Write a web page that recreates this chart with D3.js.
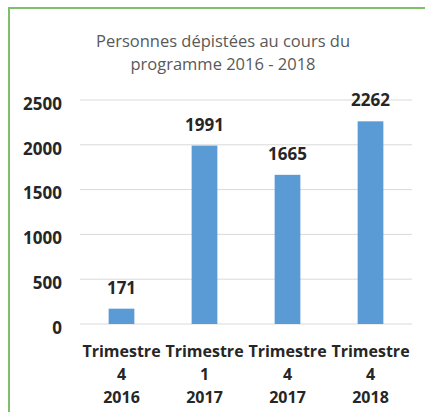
<!DOCTYPE html>
<html>
<head>
<meta charset="utf-8">
<script src="https://cdn.jsdelivr.net/npm/d3@7"></script>
<style>
  body { margin: 0; background: #fff; }
  text { font-family: 'Open Sans', sans-serif; }
</style>
</head>
<body>
<script>
var categories = ['Trimestre 4 2016', 'Trimestre 1 2017', 'Trimestre 4 2017', 'Trimestre 4 2018'];
var values     = [171, 1991, 1665, 2262];
var yTicks     = [0, 500, 1000, 1500, 2000, 2500];
var titleLines = ['Personnes dépistées au cours du', 'programme 2016 - 2018'];

var svg = d3.select('body').append('svg')
            .attr('width', 425)
            .attr('height', 412);

var x = d3.scaleBand()
          .domain(categories)
          .range([80, 412])
          .paddingInner(0.69)
          .paddingOuter(0.345);

var y = d3.scaleLinear()
          .domain([0, 2500])
          .range([324, 100]);

// green frame (top + left only)
svg.append('path')
   .attr('d', 'M 9 412 L 9 8 L 425 8')
   .attr('stroke', '#7dbf6b')
   .attr('stroke-width', 2)
   .attr('fill', 'none');

// title
svg.append('g').selectAll('text').data(titleLines)
   .enter().append('text')
   .attr('x', 223)
   .attr('y', function(d, i){ return 47 + i * 23; })
   .attr('text-anchor', 'middle')
   .attr('font-size', 16.5)
   .attr('fill', '#595959')
   .text(function(d){ return d; });

// gridlines
svg.append('g').selectAll('line').data(yTicks)
   .enter().append('line')
   .attr('x1', 80).attr('x2', 412)
   .attr('y1', function(d){ return y(d); })
   .attr('y2', function(d){ return y(d); })
   .attr('stroke', '#d9d9d9')
   .attr('stroke-width', 1);

// y axis labels
var yAxis = d3.axisLeft(y).tickValues(yTicks).tickFormat(d3.format('d')).tickSize(0).tickPadding(0);
var gy = svg.append('g').attr('transform', 'translate(62,0)').call(yAxis);
gy.select('.domain').remove();
gy.selectAll('text')
  .attr('font-family', "'Open Sans', sans-serif")
  .attr('font-size', 17)
  .attr('font-weight', 'bold')
  .attr('fill', '#262626')
  .attr('dy', '0.55em');

// bars
svg.append('g').selectAll('rect').data(values)
   .enter().append('rect')
   .attr('x', function(d, i){ return x(categories[i]); })
   .attr('y', function(d){ return y(d); })
   .attr('width', x.bandwidth())
   .attr('height', function(d){ return y(0) - y(d); })
   .attr('fill', '#5b9bd5');

// value labels
svg.append('g').selectAll('text').data(values)
   .enter().append('text')
   .attr('x', function(d, i){ return x(categories[i]) + x.bandwidth() / 2; })
   .attr('y', function(d){ return y(d) - 15; })
   .attr('text-anchor', 'middle')
   .attr('font-size', 17)
   .attr('font-weight', 'bold')
   .attr('fill', '#262626')
   .text(function(d){ return d; });

// category labels, one word per line
var cats = svg.append('g').selectAll('text').data(categories)
   .enter().append('text')
   .attr('text-anchor', 'middle')
   .attr('font-size', 16)
   .attr('font-weight', 'bold')
   .attr('fill', '#262626');

cats.selectAll('tspan')
    .data(function(d){ return d.split(' ').map(function(w){ return {w: w, c: d}; }); })
    .enter().append('tspan')
    .attr('x', function(d){ return x(d.c) + x.bandwidth() / 2; })
    .attr('y', function(d, i){ return 357 + i * 23; })
    .text(function(d){ return d.w; });
</script>
</body>
</html>
